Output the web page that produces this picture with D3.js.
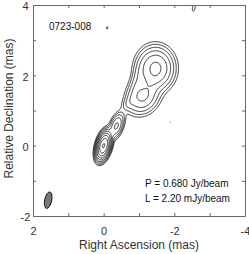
<!DOCTYPE html>
<html>
<head>
<meta charset="utf-8">
<script src="https://cdn.jsdelivr.net/npm/d3@7"></script>
<style>
  body { margin: 0; background: #fff; }
  svg { display: block; font-family: "Liberation Sans", Arial, sans-serif; }
</style>
</head>
<body>
<svg width="249" height="254"></svg>
<script>
var width = 249;
var height = 254;
var margin = {left: 33, top: 5, right: 4, bottom: 38};

// source components (mas, mJy/beam); tilt = deg clockwise from north on the page
var compName  = ["core", "knob", "jetLow", "jetUp", "jetBridge", "jetEdge", "jetTail", "spot1", "spot2", "spot3"];
var compRA    = [0.0, -0.36, -1.12, -1.47, -1.35, -0.97, -0.72, -0.1, -2.55, -1.88];
var compDec   = [0.0, 0.56, 1.40, 2.2, 1.85, 1.8, 1.22, 3.35, 3.92, 0.67];
var compPeak  = [600, 40, 40, 85, 8, 12, 6, 2.5, 2.9, 2.3];
var compMaj   = [0.175, 0.19, 0.26, 0.28, 0.2, 0.35, 0.15, 0.07, 0.13, 0.035];
var compMin   = [0.08, 0.09, 0.21, 0.24, 0.15, 0.12, 0.09, 0.035, 0.05, 0.025];
var compTilt  = [15, 20, 35, 0, 20, 15, 40, 10, 10, 0];

// contour levels: L = 2.20 mJy/beam, doubling
var levels = [2.2, 4.4, 8.8, 17.6, 35.2, 70.4, 140.8, 281.6, 563.2];

// restoring beam
var beamRA = [1.57];
var beamDec = [-1.55];
var beamMaj = [0.48];
var beamMin = [0.2];
var beamTilt = [12];

var raTicks  = [2, 1, 0, -1, -2, -3, -4];
var decTicks = [-2, -1, 0, 1, 2, 3, 4];
var raLabels  = [2, 0, -2, -4];
var decLabels = [-2, 0, 2, 4];

var labels = ["0723-008", "P = 0.680 Jy/beam", "L = 2.20 mJy/beam"];

var x = d3.scaleLinear().domain([2, -4]).range([margin.left, width - margin.right]);
var y = d3.scaleLinear().domain([-2, 4]).range([height - margin.bottom, margin.top]);

var svg = d3.select("svg");

svg.append("clipPath").attr("id", "plot")
  .append("rect")
  .attr("x", margin.left).attr("y", margin.top)
  .attr("width", width - margin.left - margin.right)
  .attr("height", height - margin.top - margin.bottom);

// brightness grid
var step = 0.015;
var nx = Math.round(6 / step) + 1;
var ny = Math.round(6 / step) + 1;
var values = new Float64Array(nx * ny);
for (var j = 0; j < ny; j++) {
  var dec = 4 - j * step;
  for (var i = 0; i < nx; i++) {
    var ra = 2 - i * step;
    var s = 0;
    for (var k = 0; k < compName.length; k++) {
      var u = -(ra - compRA[k]);
      var v = dec - compDec[k];
      var t = compTilt[k] * Math.PI / 180;
      var along = u * Math.sin(t) + v * Math.cos(t);
      var across = u * Math.cos(t) - v * Math.sin(t);
      s += compPeak[k] * Math.exp(-0.5 * (along * along / (compMaj[k] * compMaj[k]) + across * across / (compMin[k] * compMin[k])));
    }
    values[j * nx + i] = s;
  }
}

var contours = d3.contours().size([nx, ny]).thresholds(levels)(values);

var toPage = d3.geoTransform({
  point: function(gx, gy) {
    this.stream.point(x(2 - (gx - 0.5) * step), y(4 - (gy - 0.5) * step));
  }
});

svg.append("g")
  .attr("clip-path", "url(#plot)")
  .selectAll("path")
  .data(contours)
  .enter()
  .append("path")
  .attr("d", d3.geoPath(toPage))
  .attr("fill", "none")
  .attr("stroke", "#000")
  .attr("stroke-width", 0.8);

// beam
svg.selectAll("ellipse.beam")
  .data(beamRA)
  .enter()
  .append("ellipse")
  .attr("class", "beam")
  .attr("cx", 0).attr("cy", 0)
  .attr("rx", function(d, i) { return (x(0) - x(beamMin[i])) / 2; })
  .attr("ry", function(d, i) { return (y(0) - y(beamMaj[i])) / 2; })
  .attr("transform", function(d, i) { return "translate(" + x(d) + "," + y(beamDec[i]) + ") rotate(" + beamTilt[i] + ")"; })
  .attr("fill", "#777")
  .attr("stroke", "#000")
  .attr("stroke-width", 0.8);

// axes, ticks inward on all four sides
function styleAxis(g) {
  g.selectAll("path").attr("stroke", "#666");
  g.selectAll("line").attr("stroke", "#666");
  g.selectAll("text").attr("fill", "#333").style("font-size", "11px").attr("font-family", null);
}

var fmt = function(d) { return raLabels.indexOf(d) >= 0 ? d : ""; };
var fmtY = function(d) { return decLabels.indexOf(d) >= 0 ? d : ""; };

svg.append("g")
  .attr("transform", "translate(0," + (height - margin.bottom) + ")")
  .call(d3.axisBottom(x).tickValues(raTicks).tickFormat(fmt).tickSizeInner(-3).tickSizeOuter(0).tickPadding(11))
  .call(styleAxis);

svg.append("g")
  .attr("transform", "translate(0," + margin.top + ")")
  .call(d3.axisTop(x).tickValues(raTicks).tickFormat("").tickSizeInner(-3).tickSizeOuter(0))
  .call(styleAxis);

var leftAxis = svg.append("g")
  .attr("transform", "translate(" + margin.left + ",0)")
  .call(d3.axisLeft(y).tickValues(decTicks).tickFormat(fmtY).tickSizeInner(-3).tickSizeOuter(0))
  .call(styleAxis);
leftAxis.selectAll("text").attr("x", -7.5).attr("dy", "0.43em").attr("text-anchor", "middle");

svg.append("g")
  .attr("transform", "translate(" + (width - margin.right) + ",0)")
  .call(d3.axisRight(y).tickValues(decTicks).tickFormat("").tickSizeInner(-3).tickSizeOuter(0))
  .call(styleAxis);

// titles
svg.append("text")
  .attr("x", (margin.left + width - margin.right) / 2)
  .attr("y", 249)
  .attr("text-anchor", "middle")
  .attr("fill", "#333")
  .style("font-size", "12px")
  .text("Right Ascension (mas)");

svg.append("text")
  .attr("transform", "rotate(-90)")
  .attr("x", -108.5)
  .attr("y", 12.5)
  .attr("text-anchor", "middle")
  .attr("fill", "#333")
  .style("font-size", "12px")
  .text("Relative Declination (mas)");

// annotations
svg.append("text").attr("x", 49).attr("y", 30).attr("fill", "#111").style("font-size", "10px").text(labels[0]);
svg.append("text").attr("x", 145).attr("y", 187).attr("fill", "#111").style("font-size", "10px").text(labels[1]);
svg.append("text").attr("x", 145).attr("y", 201.7).attr("fill", "#111").style("font-size", "10px").text(labels[2]);
</script>
</body>
</html>
